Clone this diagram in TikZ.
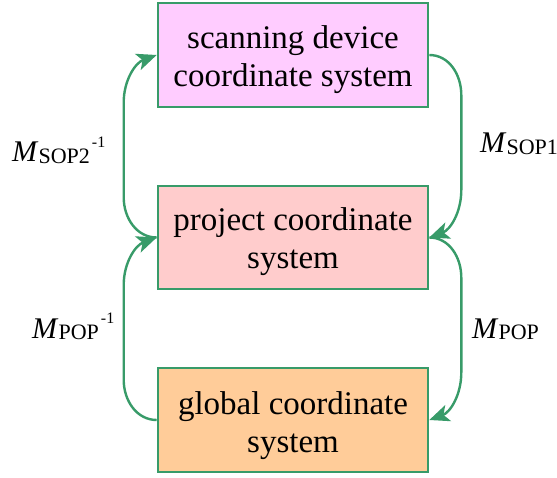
\documentclass[tikz,border=0pt]{standalone}
\usepackage{fontspec}
\setmainfont{Liberation Serif}
\usetikzlibrary{arrows.meta}
\definecolor{edgegreen}{RGB}{56,155,105}
\definecolor{pinkfill}{RGB}{255,204,255}
\definecolor{rosefill}{RGB}{255,204,204}
\definecolor{orangefill}{RGB}{255,204,153}
\tikzset{
  sysbox/.style={draw=edgegreen, line width=2.6pt, minimum width=270pt, minimum height=104pt,
    align=center, inner sep=0pt, font=\fontsize{33}{38}\selectfont},
  arr/.style={draw=edgegreen, line width=2.4pt, -{Stealth[length=20pt,width=17pt,inset=5pt]}},
  lbl/.style={anchor=base west, inner sep=0pt, font=\fontsize{30}{32}\selectfont}
}
\newcommand{\sublbl}[1]{\raisebox{-2pt}{\fontsize{22}{24}\selectfont #1}}
\newcommand{\suplbl}[1]{\hspace{2pt}\raisebox{14pt}{\fontsize{16}{18}\selectfont #1}}
\newcommand{\topstrut}{\rule{0pt}{32pt}}
\begin{document}
\begin{tikzpicture}[x=1pt,y=1pt]
\useasboundingbox (0,0) rectangle (557,477);
\node[sysbox, fill=pinkfill] (top) at (293,422) {\topstrut scanning device\\coordinate system};
\node[sysbox, fill=rosefill, minimum height=103pt] (mid) at (293,239.5) {\topstrut project coordinate\\system};
\node[sysbox, fill=orangefill] (bot) at (293,57) {\rule{0pt}{34pt}global coordinate\\system};

\draw[arr] (top.east) to[out=0,in=90] ++(32,-40) -- ++(0,-95) to[out=-90,in=20] (mid.east);
\draw[arr] (mid.east) to[out=0,in=90] ++(32,-40) -- ++(0,-95) to[out=-90,in=20] (bot.east);
\draw[arr] (mid.west) to[out=180,in=-90] ++(-33,40) -- ++(0,95) to[out=90,in=200] (top.west);
\draw[arr] (bot.west) to[out=180,in=-90] ++(-33,40) -- ++(0,95) to[out=90,in=200] (mid.west);

\node[lbl] (l1) at (480,324) {\textit{M}\sublbl{SOP1}};
\node[lbl] (l2) at (12,315) {\textit{M}\sublbl{SOP2}\suplbl{-1}};
\node[lbl] (l3) at (32,139) {\textit{M}\sublbl{POP}\suplbl{-1}};
\node[lbl] (l4) at (472,139) {\textit{M}\sublbl{POP}};
\end{tikzpicture}
\end{document}
